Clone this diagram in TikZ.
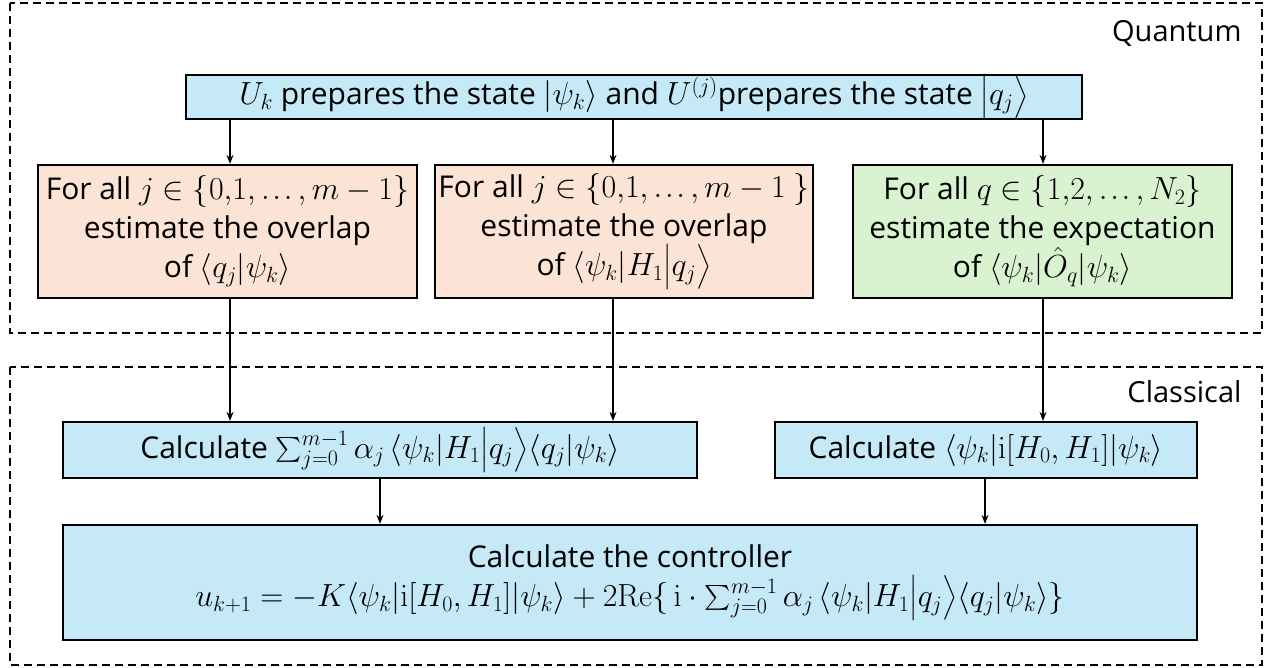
\RequirePackage{fix-cm}
\documentclass[tikz,border=0pt]{standalone}
\usepackage{amsmath}
\usepackage[no-math]{fontspec}
\setmainfont{Open Sans}
\DeclareMathSizes{30}{32}{22}{16}
\usetikzlibrary{arrows.meta}
\newcommand{\tdots}{\mathinner{.\mkern1.5mu.\mkern1.5mu.}}
\definecolor{qblue}{RGB}{198,233,248}
\definecolor{qsalmon}{RGB}{251,227,214}
\definecolor{qgreen}{RGB}{217,242,208}
\tikzset{
  box/.style={draw=black,line width=2.2pt,align=center,inner sep=0pt,font=\fontsize{30}{39}\selectfont},
  arr/.style={line width=1.4pt,-{Stealth[length=9pt,width=7pt]}},
  region/.style={draw=black,line width=1.8pt,dash pattern=on 8pt off 5pt},
  lbl/.style={font=\fontsize{29}{30}\selectfont,anchor=east}
}
\begin{document}
\begin{tikzpicture}[x=1pt,y=-1pt]
\useasboundingbox (0,0) rectangle (1271,668);
\draw[region] (10,3) rectangle (1262,333);
\draw[region] (10,367) rectangle (1262,665);
\node[lbl] (ql) at (1245,33) {Quantum};
\node[lbl] (cl) at (1245,392) {Classical};

\node[box,fill=qblue,minimum width=896pt,minimum height=42pt] (top) at (634,97)
 {$U_k$ prepares the state $\lvert\psi_k\rangle$ and $U^{(j)}$prepares the state $\bigl\lvert q_j\bigr\rangle$};
\node[box,fill=qsalmon,minimum width=379pt,minimum height=133pt] (b1) at (227.5,231.5)
 {For all $j\in\{0{,}1,\tdots,m-1\}$\\ estimate the overlap\\ of $\langle q_j\vert\psi_k\rangle$};
\node[box,fill=qsalmon,minimum width=378pt,minimum height=133pt] (b2) at (624,231.5)
 {For all $j\in\{0{,}1,\tdots,m-1\ \}$\\ estimate the overlap\\ of $\langle\psi_k\vert H_1\bigl\vert q_j\bigr\rangle$};
\node[box,fill=qgreen,minimum width=379pt,minimum height=133pt] (b3) at (1042.5,231.5)
 {For all $q\in\{1{,}2,\tdots,N_2\}$\\ estimate the expectation\\ of $\langle\psi_k\vert\hat O_q\vert\psi_k\rangle$};
\node[box,fill=qblue,minimum width=634pt,minimum height=56pt] (c1) at (380,450)
 {Calculate $\sum_{j=0}^{m-1}\alpha_j\,\langle\psi_k\vert H_1\bigl\vert q_j\bigr\rangle\langle q_j\vert\psi_k\rangle$};
\node[box,fill=qblue,minimum width=422pt,minimum height=56pt] (c2) at (986,450)
 {Calculate $\langle\psi_k\vert\mathrm{i}[H_0,H_1]\vert\psi_k\rangle$};
\node[box,fill=qblue,minimum width=1134pt,minimum height=115pt] (bot) at (630,582.5)
 {Calculate the controller\\ $u_{k+1}=-K\langle\psi_k\vert\mathrm{i}[H_0,H_1]\vert\psi_k\rangle+2\mathrm{Re}\{\,\mathrm{i}\cdot\sum_{j=0}^{m-1}\alpha_j\,\langle\psi_k\vert H_1\bigl\vert q_j\bigr\rangle\langle q_j\vert\psi_k\rangle\}$};

\draw[arr] ([xshift=2.5pt]b1.north |- top.south) -- ([xshift=2.5pt]b1.north);
\draw[arr] ([xshift=-11pt]b2.north |- top.south) -- ([xshift=-11pt]b2.north);
\draw[arr] ([xshift=0.5pt]b3.north |- top.south) -- ([xshift=0.5pt]b3.north);
\draw[arr] ([xshift=2.5pt]b1.south) -- ([xshift=2.5pt]b1.south |- c1.north);
\draw[arr] ([xshift=-11pt]b2.south) -- ([xshift=-11pt]b2.south |- c1.north);
\draw[arr] ([xshift=0.5pt]b3.south) -- ([xshift=0.5pt]b3.south |- c2.north);
\draw[arr] (c1.south) -- (c1.south |- bot.north);
\draw[arr] ([xshift=-1pt]c2.south) -- ([xshift=-1pt]c2.south |- bot.north);
\end{tikzpicture}
\end{document}
